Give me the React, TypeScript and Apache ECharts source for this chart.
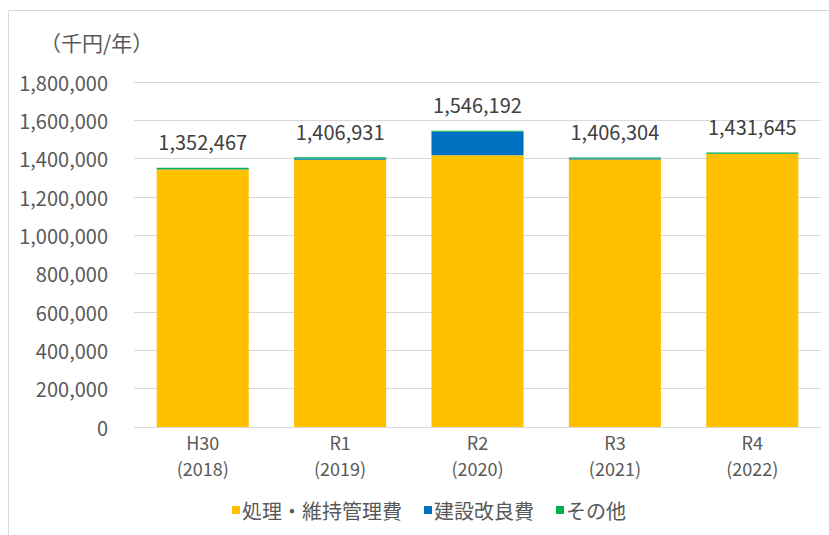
import React, { useEffect, useRef } from "react";
import * as echarts from "echarts";

const categories = ["H30\n(2018)", "R1\n(2019)", "R2\n(2020)", "R3\n(2021)", "R4\n(2022)"];
const maintenance = [1343000, 1395000, 1418000, 1396000, 1425000];
const construction = [2000, 6000, 122000, 5000, 1000];
const others = [7467, 5931, 6192, 5304, 5645];
const totals = [1352467, 1406931, 1546192, 1406304, 1431645];
const seriesNames = ["処理・維持管理費", "建設改良費", "その他"];
const yTicks = { min: 0, max: 1800000, interval: 200000 };

const FONT = "'Noto Sans CJK JP', 'Noto Sans', sans-serif";
const fmt = (v: number) => v.toLocaleString("en-US");

export default function App() {
  const ref = useRef<HTMLDivElement>(null);
  useEffect(() => {
    if (!ref.current) return;
    const chart = echarts.init(ref.current, null, { renderer: "svg" });
    chart.setOption({
      animation: false,
      backgroundColor: "#ffffff",
      textStyle: { fontFamily: FONT },
      grid: { left: 134, right: 8, top: 82, bottom: 108, containLabel: false },
      graphic: [
        {
          type: "polyline",
          shape: { points: [[8.5, 535], [8.5, 10.5], [829, 10.5]] },
          style: { stroke: "#d9d9d9", fill: "none", lineWidth: 1 },
        },
        {
          type: "text",
          left: 40,
          top: 31,
          style: { text: "（千円/年）", fontSize: 21, fill: "#595959", fontFamily: FONT },
        },
      ],
      legend: {
        left: 227,
        top: 495,
        icon: "rect",
        itemWidth: 8,
        itemHeight: 8,
        itemGap: 22,
        textStyle: { fontSize: 20, color: "#595959", fontFamily: FONT, padding: [0, 0, 0, -3] },
        data: seriesNames,
      },
      xAxis: {
        type: "category",
        data: categories,
        axisLine: { lineStyle: { color: "#d9d9d9" } },
        axisTick: { show: false },
        axisLabel: { fontSize: 18, color: "#595959", lineHeight: 26, margin: 2, fontFamily: FONT },
      },
      yAxis: {
        type: "value",
        min: yTicks.min,
        max: yTicks.max,
        interval: yTicks.interval,
        axisLine: { show: false },
        axisTick: { show: false },
        splitLine: { lineStyle: { color: "#d9d9d9" } },
        axisLabel: {
          fontSize: 20,
          color: "#595959",
          margin: 26,
          fontFamily: FONT,
          formatter: (v: number) => fmt(v),
        },
      },
      series: [
        {
          name: seriesNames[0],
          type: "bar",
          stack: "total",
          barWidth: "67%",
          itemStyle: { color: "#FFC000" },
          data: maintenance,
        },
        {
          name: seriesNames[1],
          type: "bar",
          stack: "total",
          itemStyle: { color: "#0070C0" },
          data: construction,
        },
        {
          name: seriesNames[2],
          type: "bar",
          stack: "total",
          itemStyle: { color: "#00B050" },
          data: others,
          label: {
            show: true,
            position: "top",
            distance: 16,
            fontSize: 20,
            color: "#404040",
            fontFamily: FONT,
            formatter: (p: any) => fmt(totals[p.dataIndex]),
          },
        },
      ],
    });
    return () => chart.dispose();
  }, []);
  return (
    <div
      ref={ref}
      style={{ position: "fixed", left: 0, top: 0, width: 829, height: 535 }}
    />
  );
}
